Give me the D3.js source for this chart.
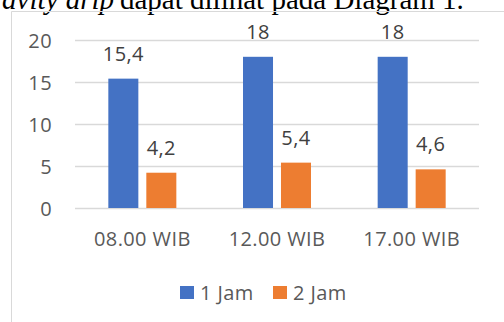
<!DOCTYPE html>
<html>
<head>
<meta charset="utf-8">
<script src="https://cdn.jsdelivr.net/npm/d3@7"></script>
<style>
  html, body { margin: 0; padding: 0; background: #fff; }
  svg { display: block; }
</style>
</head>
<body>
<svg id="chart" width="504" height="322"></svg>
<script>
// Sampling times and series
const categories = ["08.00 WIB", "12.00 WIB", "17.00 WIB"];
const seriesNames = ["1 Jam", "2 Jam"];
const values1Jam = [15.4, 18, 18];
const values2Jam = [4.2, 5.4, 4.6];
const yTicks = [0, 5, 10, 15, 20];
const seriesColors = ["#4472C4", "#ED7D31"];

const seriesValues = [values1Jam, values2Jam];
const rows = categories.map((c, i) => ({
  category: c,
  items: seriesNames.map((s, j) => ({ series: s, value: seriesValues[j][i] }))
}));

const svg = d3.select("#chart");
const textColor = "#595959";
const chartFont = "'Open Sans', sans-serif";
const chartSize = 20;
const spacing = 0.4;
const fmt = v => String(v).replace(".", ",");

// Running paragraph text above the chart frame
const serif = "'Liberation Serif', 'Times New Roman', serif";
svg.append("text")
  .attr("x", 120)
  .attr("y", 9)
  .attr("font-family", serif)
  .attr("font-size", 29)
  .attr("fill", "#000")
  .text("dapat dilihat pada Diagram 1.");
svg.append("text")
  .attr("x", 114)
  .attr("y", 9)
  .attr("text-anchor", "end")
  .attr("font-family", serif)
  .attr("font-style", "italic")
  .attr("font-size", 29)
  .attr("fill", "#000")
  .text("gravity drip");

// Chart frame
svg.append("path")
  .attr("d", "M11.5,322 V11.5 H504")
  .attr("fill", "none")
  .attr("stroke", "#d9d9d9")
  .attr("stroke-width", 1);

const plot = { left: 75, right: 479, top: 40, bottom: 208 };

const x0 = d3.scaleBand()
  .domain(categories)
  .range([plot.left, plot.right])
  .padding(0);

const groupWidth = 68;
const x1 = d3.scaleBand()
  .domain(seriesNames)
  .range([0, groupWidth])
  .paddingInner(0.21);

const y = d3.scaleLinear()
  .domain([0, 20])
  .range([plot.bottom, plot.top]);

// Gridlines and value axis labels
const yAxis = d3.axisLeft(y)
  .tickValues(yTicks)
  .tickSize(-(plot.right - plot.left))
  .tickPadding(23)
  .tickFormat(d3.format("d"));

const gy = svg.append("g")
  .attr("transform", `translate(${plot.left},0)`)
  .call(yAxis);
gy.select(".domain").remove();
gy.selectAll(".tick line")
  .attr("stroke", "#d9d9d9")
  .attr("stroke-width", 1.3);
gy.selectAll(".tick text")
  .attr("font-family", chartFont)
  .attr("font-size", chartSize)
  .attr("letter-spacing", spacing)
  .attr("fill", textColor)
  .attr("dy", "0.36em");

// Bars
const groups = svg.append("g").selectAll("g")
  .data(rows)
  .join("g")
  .attr("transform", d => `translate(${x0(d.category) + x0.bandwidth() / 2 - groupWidth / 2},0)`);

groups.selectAll("rect")
  .data(d => d.items)
  .join("rect")
  .attr("x", d => x1(d.series))
  .attr("y", d => y(d.value))
  .attr("width", x1.bandwidth())
  .attr("height", d => y(0) - y(d.value))
  .attr("fill", (d, i) => seriesColors[i]);

// Value labels
groups.selectAll("text.value")
  .data(d => d.items)
  .join("text")
  .attr("class", "value")
  .attr("x", d => x1(d.series) + x1.bandwidth() / 2)
  .attr("y", d => y(d.value) - 18)
  .attr("text-anchor", "middle")
  .attr("font-family", chartFont)
  .attr("font-size", chartSize)
  .attr("letter-spacing", spacing)
  .attr("fill", "#404040")
  .text(d => fmt(d.value));

// Category axis
const xAxis = d3.axisBottom(x0).tickSize(0).tickPadding(24);
const gx = svg.append("g")
  .attr("transform", `translate(0,${plot.bottom})`)
  .call(xAxis);
gx.select(".domain").remove();
gx.selectAll(".tick text")
  .attr("font-family", chartFont)
  .attr("font-size", chartSize)
  .attr("letter-spacing", spacing)
  .attr("fill", textColor)
  .attr("dy", "0.71em");

// Legend
const legend = svg.append("g").attr("transform", "translate(180,286)");
const legendX = [0, 93];
const items = legend.selectAll("g")
  .data(seriesNames)
  .join("g")
  .attr("transform", (d, i) => `translate(${legendX[i]},0)`);
items.append("rect")
  .attr("width", 14)
  .attr("height", 13)
  .attr("fill", (d, i) => seriesColors[i]);
items.append("text")
  .attr("x", 20)
  .attr("y", 14)
  .attr("font-family", chartFont)
  .attr("font-size", chartSize)
  .attr("letter-spacing", spacing)
  .attr("fill", textColor)
  .text(d => d);
</script>
</body>
</html>
